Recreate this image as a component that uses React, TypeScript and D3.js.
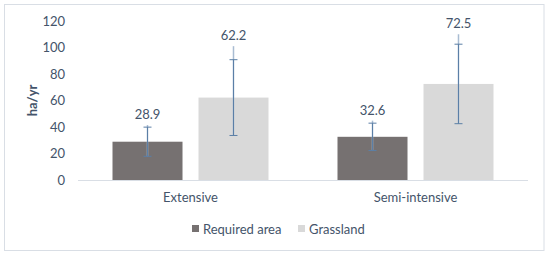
import React from 'react'
import * as d3 from 'd3'

const categories = ['Extensive', 'Semi-intensive']
const seriesNames = ['Required area', 'Grassland']
const requiredArea = [28.9, 32.6]
const grassland = [62.2, 72.5]
// error bars: capped +/- and a thin upper whisker
const requiredErr = [11, 10.3]
const grasslandErr = [28.6, 30]
const requiredTop = [41.5, 44.8]
const grasslandTop = [101, 110]
const yTicks = [0, 20, 40, 60, 80, 100, 120]

const W = 550
const H = 255
const margin = {top: 21, right: 22, bottom: 75, left: 78}
const colors = ['#767171', '#D9D9D9']
const textColor = '#44546A'
const errColor = '#5B7FA6'
const errLight = '#A9BCD2'
const font = 'Lato, "Open Sans", sans-serif'

const App = () => {
  const x0 = d3.scaleBand()
    .domain(categories)
    .range([margin.left, W - margin.right])
    .padding(0)

  const x1 = d3.scaleBand()
    .domain(seriesNames)
    .range([34.5, 190.5])
    .paddingInner(0.186)
    .paddingOuter(0)

  const y = d3.scaleLinear()
    .domain([0, 120])
    .range([H - margin.bottom, margin.top])

  const rows = categories.map((c, i) => ({
    cat: c,
    bars: [
      {name: seriesNames[0], value: requiredArea[i], err: requiredErr[i], top: requiredTop[i], color: colors[0]},
      {name: seriesNames[1], value: grassland[i], err: grasslandErr[i], top: grasslandTop[i], color: colors[1]},
    ],
  }))

  const legendX = [192, 298]

  return (
    <svg width={W} height={H} style={{position: 'absolute', left: 0, top: 0, background: '#fff'}}
      fontFamily={font}>
      <rect x={4.5} y={4.5} width={539.5} height={246} fill="#fff" stroke="#D9DEE5" />

      {yTicks.map(t => (
        <text key={t} x={65} y={y(t)} dy="0.35em" textAnchor="end" fontSize={13} fill={textColor}>{t}</text>
      ))}
      <line x1={margin.left} x2={W - margin.right} y1={y(0) + 0.5} y2={y(0) + 0.5} stroke="#D9DEE5" />

      <text transform={`translate(32,${(y(0) + y(120)) / 2}) rotate(-90)`} textAnchor="middle" dy="0.35em"
        fontSize={13} fontWeight="bold" fill={textColor}>ha/yr</text>

      {rows.map(r => (
        <g key={r.cat} transform={`translate(${x0(r.cat)},0)`}>
          {r.bars.map(b => {
            const cx = x1(b.name)! + x1.bandwidth() / 2
            return (
              <g key={b.name}>
                <rect x={x1(b.name)} y={y(b.value)} width={x1.bandwidth()} height={y(0) - y(b.value)} fill={b.color} />
                <line x1={cx} x2={cx} y1={y(b.top)} y2={y(b.value - b.err)} stroke={errLight} strokeWidth={1.5} />
                <line x1={cx} x2={cx} y1={y(b.value + b.err)} y2={y(b.value - b.err)} stroke={errColor} strokeWidth={1} />
                <line x1={cx - 4} x2={cx + 4} y1={y(b.value + b.err)} y2={y(b.value + b.err)} stroke={errColor} strokeWidth={1} />
                <line x1={cx - 4} x2={cx + 4} y1={y(b.value - b.err)} y2={y(b.value - b.err)} stroke={errColor} strokeWidth={1} />
                <text x={cx} y={y(b.top) - 6} textAnchor="middle" fontSize={13} fill={textColor}>{b.value.toFixed(1)}</text>
              </g>
            )
          })}
          <text x={x0.bandwidth() / 2} y={y(0) + 22} textAnchor="middle" fontSize={13} fill={textColor}>{r.cat}</text>
        </g>
      ))}

      {seriesNames.map((s, i) => (
        <g key={s} transform={`translate(${legendX[i]},225)`}>
          <rect width={7} height={7} fill={colors[i]} />
          <text x={11} y={4} dy="0.35em" fontSize={13} fill={textColor}>{s}</text>
        </g>
      ))}
    </svg>
  )
}

export default App
